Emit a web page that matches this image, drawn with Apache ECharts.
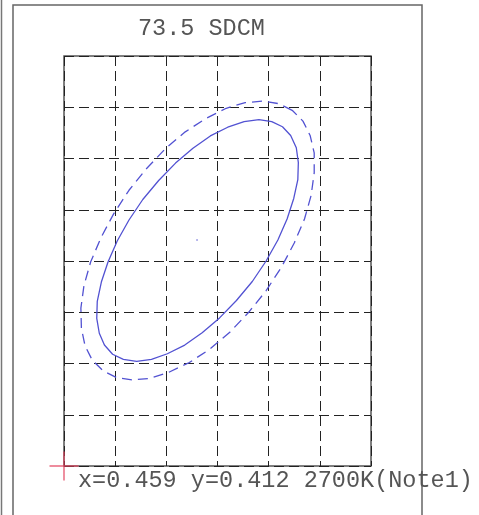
<!DOCTYPE html>
<html>
<head>
<meta charset="utf-8">
<script src="https://cdn.jsdelivr.net/npm/echarts@6/dist/echarts.min.js"></script>
<style>
  html, body { margin: 0; padding: 0; background: #fff; }
  #chart { width: 479px; height: 515px; }
</style>
</head>
<body>
<div id="chart"></div>
<script>
const xRange = [0, 6];
const yRange = [0, 8];
const titleText = '73.5 SDCM';
const noteText = 'x=0.459 y=0.412 2700K(Note1)';

const solidContour = [
  [4.27, 6.62], [4.06, 6.72], [3.81, 6.76], [3.52, 6.72], [3.20, 6.61], [2.86, 6.44],
  [2.52, 6.20], [2.18, 5.91], [1.85, 5.57], [1.54, 5.20], [1.27, 4.80], [1.04, 4.39],
  [0.86, 3.98], [0.73, 3.59], [0.65, 3.21], [0.64, 2.88], [0.69, 2.59], [0.79, 2.36],
  [0.95, 2.18], [1.16, 2.08], [1.42, 2.04], [1.71, 2.08], [2.02, 2.19], [2.36, 2.36],
  [2.70, 2.60], [3.04, 2.89], [3.37, 3.23], [3.68, 3.60], [3.95, 4.00], [4.18, 4.41],
  [4.36, 4.82], [4.49, 5.22], [4.57, 5.59], [4.58, 5.92], [4.54, 6.21], [4.43, 6.45],
  [4.27, 6.62]
];
const dashedContour = [
  [4.46, 6.94], [4.20, 7.07], [3.89, 7.12], [3.54, 7.09], [3.17, 6.98], [2.77, 6.78],
  [2.37, 6.52], [1.98, 6.19], [1.61, 5.80], [1.27, 5.38], [0.97, 4.92], [0.72, 4.45],
  [0.52, 3.98], [0.39, 3.52], [0.33, 3.08], [0.34, 2.69], [0.41, 2.35], [0.55, 2.07],
  [0.76, 1.86], [1.02, 1.73], [1.33, 1.68], [1.68, 1.71], [2.05, 1.83], [2.45, 2.02],
  [2.85, 2.28], [3.24, 2.61], [3.61, 3.00], [3.95, 3.42], [4.25, 3.88], [4.50, 4.35],
  [4.70, 4.82], [4.83, 5.28], [4.89, 5.72], [4.89, 6.11], [4.81, 6.45], [4.67, 6.73],
  [4.46, 6.94]
];
const centerPoint = [[2.60, 4.41]];
const targetPoint = [[0, 0]];

const chart = echarts.init(document.getElementById('chart'));
const lineBlue = '#5252d2';
const gridLine = { show: true, lineStyle: { color: '#222', width: 1, type: [10, 5] } };
const monoFont = '23.5px "Liberation Mono"';

chart.setOption({
  animation: false,
  backgroundColor: '#fff',
  grid: {
    left: 64, top: 56, width: 307, height: 410,
    show: true, borderColor: '#555', borderWidth: 1.5, backgroundColor: 'transparent'
  },
  xAxis: {
    type: 'value', min: xRange[0], max: xRange[1], interval: 1,
    axisLine: { show: false }, axisTick: { show: false }, axisLabel: { show: false },
    splitLine: gridLine
  },
  yAxis: {
    type: 'value', min: yRange[0], max: yRange[1], interval: 1,
    axisLine: { show: false }, axisTick: { show: false }, axisLabel: { show: false },
    splitLine: gridLine
  },
  graphic: [
    { type: 'line', shape: { x1: 1.5, y1: 0, x2: 1.5, y2: 515 }, style: { stroke: '#777', lineWidth: 1.5 } },
    { type: 'rect', shape: { x: 13, y: 5, width: 409, height: 530 }, style: { stroke: '#666', fill: null, lineWidth: 1.5 } },
    { type: 'text', style: { text: titleText, x: 138, y: 29, font: monoFont, fill: '#555', verticalAlign: 'middle' } },
    { type: 'text', style: { text: noteText, x: 78, y: 481, font: monoFont, fill: '#555', verticalAlign: 'middle' } }
  ],
  series: [
    {
      type: 'line', data: dashedContour, symbol: 'none',
      lineStyle: { color: lineBlue, width: 1.3, type: [10, 6] }
    },
    {
      type: 'line', data: solidContour, symbol: 'none',
      lineStyle: { color: lineBlue, width: 1.3 }
    },
    {
      type: 'scatter', data: centerPoint, symbolSize: 2,
      itemStyle: { color: '#8a8ae0' }
    },
    {
      type: 'scatter', data: targetPoint, clip: false,
      symbol: 'path://M0,14.25h30v1.5h-30zM14.25,0h1.5v30h-1.5z', symbolSize: 29,
      itemStyle: { color: '#e2405c' }, z: 5
    }
  ]
});
</script>
</body>
</html>
